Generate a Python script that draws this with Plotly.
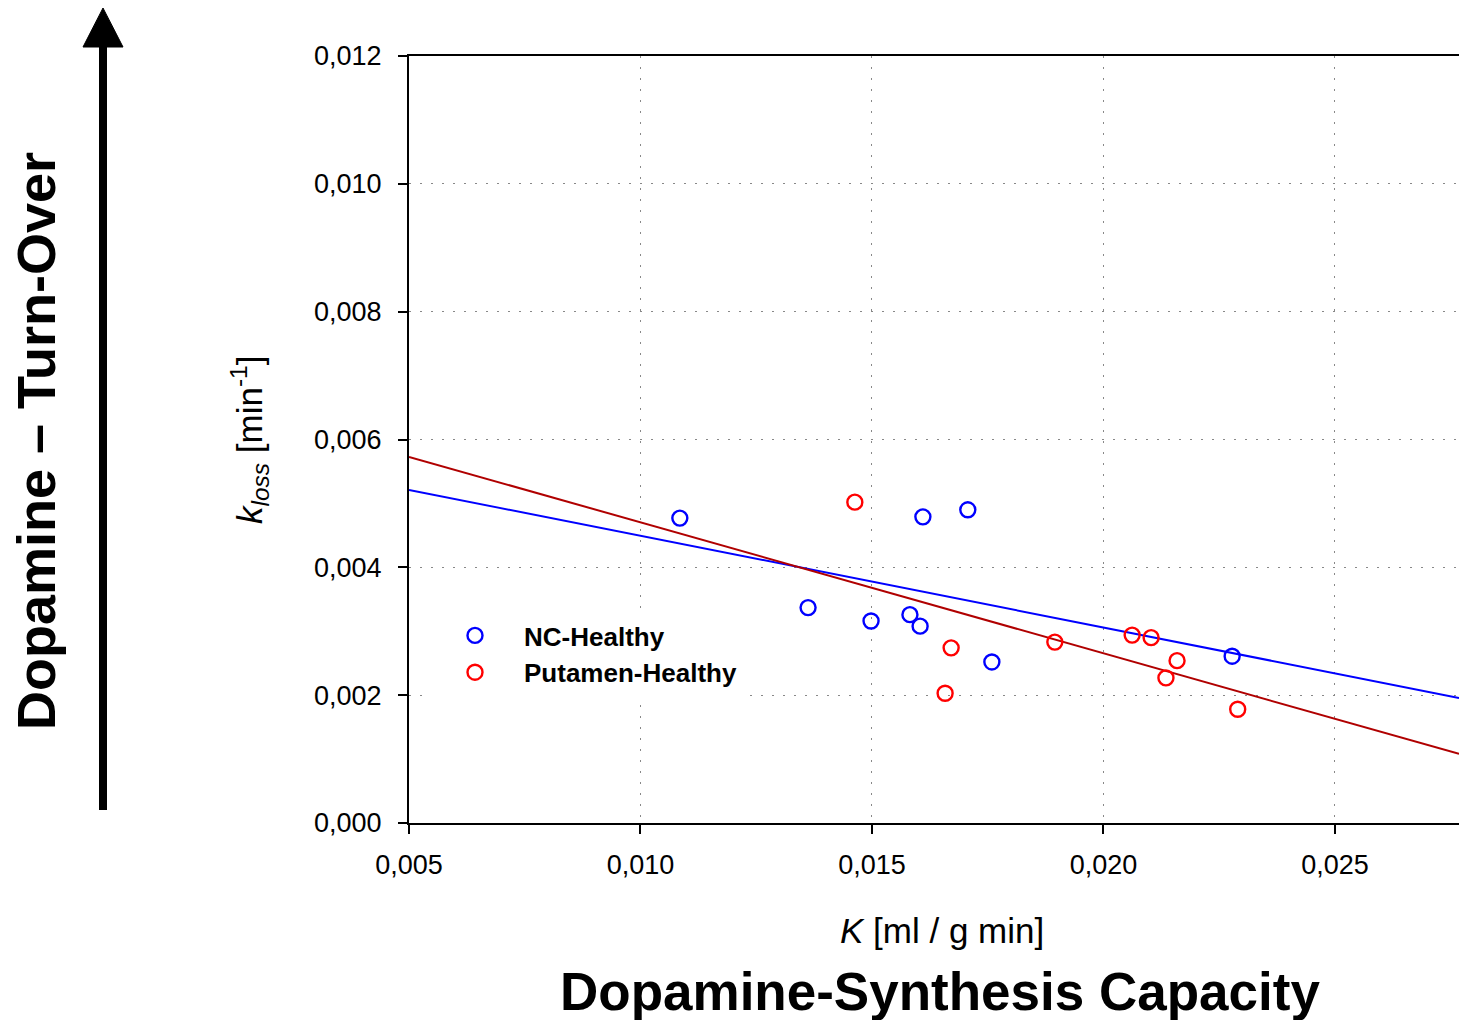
import plotly.graph_objects as go

# ---- data ----
nc_x = [0.01085, 0.01362, 0.01498, 0.01582, 0.01604, 0.01610, 0.01707, 0.01759, 0.02278]
nc_y = [0.00477, 0.00337, 0.00316, 0.00326, 0.00308, 0.00479, 0.00490, 0.00252, 0.00261]
put_x = [0.01463, 0.01658, 0.01671, 0.01895, 0.02062, 0.02103, 0.02135, 0.02159, 0.02290]
put_y = [0.00502, 0.00203, 0.00274, 0.00283, 0.00294, 0.00290, 0.00227, 0.00254, 0.00178]
# linear fits: [intercept, slope]
nc_fit = [0.005929, -0.1435]
put_fit = [0.006753, -0.2049]
x_range = [0.005, 0.02768]
x_ticks = [0.005, 0.010, 0.015, 0.020, 0.025]
y_ticks = [0.000, 0.002, 0.004, 0.006, 0.008, 0.010, 0.012]

BLUE = "#0000ff"
RED = "#ff0000"
DARKRED = "#b00000"
FONT = "Arial, Liberation Sans, sans-serif"

fig = go.Figure()

def fit_line(fit):
    return [fit[0] + fit[1] * x for x in x_range]

fig.add_trace(go.Scatter(x=x_range, y=fit_line(nc_fit), mode="lines",
                         line=dict(color=BLUE, width=2), showlegend=False, hoverinfo="skip"))
fig.add_trace(go.Scatter(x=x_range, y=fit_line(put_fit), mode="lines",
                         line=dict(color=DARKRED, width=2), showlegend=False, hoverinfo="skip"))
fig.add_trace(go.Scatter(x=nc_x, y=nc_y, mode="markers", name="<b>NC-Healthy</b>",
                         legendgroup="a",
                         marker=dict(symbol="circle-open", size=15, color=BLUE, line=dict(width=2.4, color=BLUE))))
fig.add_trace(go.Scatter(x=put_x, y=put_y, mode="markers", name="<b>Putamen-Healthy</b>",
                         legendgroup="b",
                         marker=dict(symbol="circle-open", size=15, color=RED, line=dict(width=2.4, color=RED))))

grid = dict(gridcolor="#888888", gridwidth=1, griddash="2px,9px")

fig.update_xaxes(range=x_range, tickvals=x_ticks, tickformat=".3f", showgrid=True, **grid,
                 showline=True, linecolor="black", linewidth=2, mirror=True,
                 ticks="outside", ticklen=9, tickwidth=2, tickcolor="black",
                 tickfont=dict(family=FONT, size=27, color="black"),
                 ticklabelstandoff=8, zeroline=False)
fig.update_yaxes(range=[0, 0.012], tickvals=y_ticks, tickformat=".3f", showgrid=True, **grid,
                 showline=True, linecolor="black", linewidth=2,
                 ticks="outside", ticklen=9, tickwidth=2, tickcolor="black",
                 tickfont=dict(family=FONT, size=27, color="black"),
                 ticklabelstandoff=11, zeroline=False)

# reference pixel -> paper coordinates (plot area: x 409..1459, y 56..823)
def px(xp):
    return (xp - 409) / 1050

def py(yp):
    return (823 - yp) / 767

annotations = [
    dict(text="<i>k</i><sub><i>loss</i></sub> [min<sup>-1</sup>]", x=px(250), y=py(440),
         textangle=-90, font=dict(family=FONT, size=35, color="black")),
    dict(text="<i>K</i> [ml / g min]", x=px(942), y=py(930),
         font=dict(family=FONT, size=35, color="black")),
    dict(text="<b>Dopamine-Synthesis Capacity</b>", x=px(940), y=py(991),
         font=dict(family=FONT, size=53, color="black")),
    dict(text="<b>Dopamine – Turn-Over</b>", x=px(36), y=py(441), textangle=-90,
         font=dict(family=FONT, size=54, color="black")),
]
for a in annotations:
    a.update(xref="paper", yref="paper", showarrow=False, xanchor="center", yanchor="middle")

shapes = [
    dict(type="line", xref="paper", yref="paper", x0=px(103), x1=px(103), y0=py(810), y1=py(45),
         line=dict(color="black", width=8)),
    dict(type="path", xref="paper", yref="paper",
         path=f"M {px(83)} {py(47)} L {px(123)} {py(47)} L {px(103)} {py(8)} Z",
         fillcolor="black", line=dict(color="black", width=1)),
]

fig.update_layout(
    width=1459, height=1020,
    margin=dict(l=409, r=0, t=56, b=197),
    paper_bgcolor="white", plot_bgcolor="white",
    separators=",.",
    annotations=annotations, shapes=shapes,
    legend=dict(x=px(426), y=py(612), xanchor="left", yanchor="top",
                bgcolor="white", font=dict(family=FONT, size=26, color="black"),
                itemwidth=88, tracegroupgap=0, traceorder="grouped"),
    showlegend=True,
)

# remove the page's default 8px body margin so the figure fills the window exactly
fig.write_html("out.html",
               config={"displayModeBar": False},
               post_script="document.body.style.margin='0';document.body.style.overflow='hidden';")
